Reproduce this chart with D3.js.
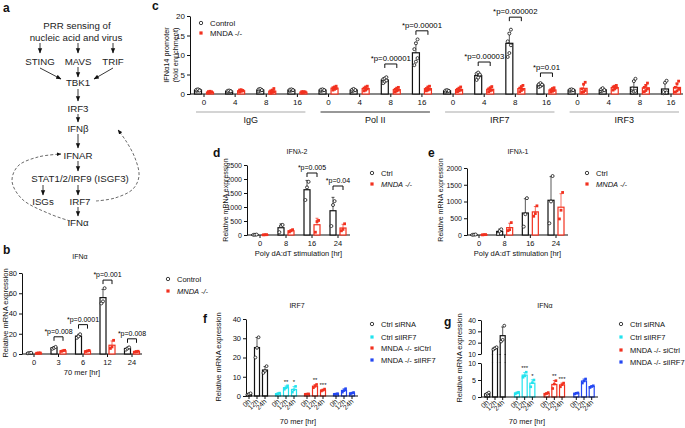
<!DOCTYPE html>
<html>
<head>
<meta charset="utf-8">
<script src="https://cdn.jsdelivr.net/npm/d3@7.9.0/dist/d3.min.js"></script>
<style>
  body { margin: 0; background: #fff; }
  svg { font-family: "Liberation Sans", Arial, sans-serif; }
</style>
</head>
<body>
<svg id="fig" width="685" height="428"></svg>
<script>
// ---- panel b: IFNa after 70 mer ----
const bTimes = ['0', '3', '6', '12', '24'];
const bControl = [[0.7, 1.0, 1.2], [5.2, 6.0, 7.0], [16.0, 17.5, 19.5], [50, 52, 65], [4.3, 5.5, 6.5]];
const bMnda = [[0.8, 1.0, 1.1], [2.6, 3.2, 3.6], [2.5, 3.0, 3.5], [5.5, 7.0, 13.5], [2.0, 2.4, 2.7]];
const bPvalGroups = ['3', '6', '12', '24'];
const bPvalText = ['*p=0.008', '*p=0.0001', '*p=0.001', '*p=0.008'];
const bPvalLevel = [17, 29, 73, 15];

// ---- panel c: ChIP at IFNa14 promoter ----
const cTargets = ['IgG', 'Pol II', 'IRF7', 'IRF3'];
const cTimes = ['0', '4', '8', '16'];
const cControl = [
  [0.8, 0.9, 1.0, 1.1, 1.2, 0.9], [0.5, 0.6, 0.7, 0.8, 0.9, 0.7], [0.7, 0.9, 1.0, 1.2, 1.3, 1.0], [0.8, 0.9, 1.0, 1.1, 1.2, 1.0],
  [0.8, 0.9, 1.0, 1.1, 1.2, 1.0], [0.7, 0.9, 1.0, 1.1, 1.3, 1.0], [2.8, 3.2, 3.5, 3.8, 4.0, 4.3], [7.4, 8.3, 9.2, 11.5, 13.0, 14.0],
  [0.5, 0.7, 0.8, 0.9, 1.0, 0.8], [3.6, 4.2, 4.8, 5.2, 5.5, 5.0], [9.5, 10.5, 12.5, 13.5, 15.5, 16.5], [1.8, 2.0, 2.3, 2.5, 2.8, 2.4],
  [0.8, 0.9, 1.0, 1.1, 1.2, 1.0], [0.7, 0.9, 1.0, 1.2, 1.5, 1.0], [0.4, 0.6, 0.8, 1.4, 3.3, 3.9], [0.2, 0.3, 0.4, 0.5, 2.9, 3.4]
];
const cMnda = [
  [0.3, 0.4, 0.5, 0.6, 0.7, 0.5], [0.5, 0.7, 0.8, 1.0, 1.1, 0.9], [0.2, 0.4, 0.6, 0.8, 1.0, 1.4], [0.3, 0.4, 0.5, 0.6, 0.6, 0.5],
  [1.0, 1.2, 1.4, 1.6, 1.8, 2.0], [0.8, 1.0, 1.3, 1.5, 1.8, 2.0], [0.5, 0.8, 1.0, 1.2, 1.5, 1.7], [0.8, 1.0, 1.2, 1.4, 1.8, 2.0],
  [0.6, 0.8, 1.0, 1.2, 1.5, 1.8], [0.6, 0.8, 1.0, 1.3, 1.6, 1.9], [0.6, 0.9, 1.2, 1.5, 1.9, 2.2], [0.5, 0.7, 0.9, 1.1, 1.4, 1.6],
  [0.4, 0.6, 0.9, 1.3, 2.5, 3.0], [1.0, 1.3, 1.6, 1.8, 2.0, 2.2], [0.6, 0.9, 1.3, 1.7, 2.2, 2.8], [0.5, 0.8, 1.2, 1.7, 2.6, 3.3]
];
const cPvalGroups = [6, 7, 9, 10, 11];
const cPvalText = ['*p=0.00001', '*p=0.00001', '*p=0.00003', '*p=0.000002', '*p=0.01'];
const cPvalLevel = [7.7, 16.2, 8.2, 19.7, 5.4];

// ---- panels d, e: IFNL after poly dA:dT ----
const deTimes = ['0', '8', '16', '24'];
const dCtrl = [[5, 10, 15], [100, 320, 360], [1250, 1700, 1900], [320, 1070, 1210]];
const dMnda = [[5, 10, 12], [110, 150, 190], [100, 480, 520], [150, 200, 400]];
const dPvalGroups = ['16', '24'];
const dPvalText = ['*p=0.005', '*p=0.04'];
const dPvalLevel = [2214, 1750];
const eCtrl = [[5, 10, 15], [30, 120, 170], [250, 620, 1100], [350, 1000, 1760]];
const eMnda = [[5, 10, 12], [130, 160, 370], [560, 640, 870], [480, 740, 1270]];

// ---- panels f, g: siRNA ----
const fgTimes = ['0h', '12h', '24h'];
const fgGroups = ['Ctrl siRNA', 'Ctrl siIRF7', 'MNDA -/- siCtrl', 'MNDA -/- siIRF7'];
const fPts = [
  [[0.6, 1.0, 1.4], [20, 25, 30.5], [12, 13, 15.5]],
  [[0.8, 1.2, 1.5], [3.5, 4.2, 5.3], [2.0, 3.2, 5.0]],
  [[0.9, 1.0, 1.1], [4.3, 5.0, 6.0], [2.6, 3.0, 3.6]],
  [[0.9, 1.0, 1.2], [2.0, 2.8, 3.8], [1.2, 1.5, 1.8]]
];
const fStars = [['', '', ''], ['', '**', '*'], ['', '**', '***'], ['', '', '']];
const gPts = [
  [[0.6, 1.0, 1.3], [14, 15, 16], [21, 22.5, 35]],
  [[0.9, 1.2, 1.4], [5.8, 6.2, 7.3], [3.0, 4.2, 5.0]],
  [[0.8, 1.0, 1.3], [2.5, 3.8, 4.8], [3.0, 3.6, 4.1]],
  [[0.9, 1.1, 1.2], [4.1, 4.7, 5.3], [2.8, 3.1, 3.3]]
];
const gStars = [['', '', ''], ['', '***', '*'], ['', '**', '***'], ['', '', '']];

const INK = '#111';
const RED = '#f2311f';
const groupColors = [INK, '#22e3ee', RED, '#2347f2'];

const svg = d3.select('#fig');

function txt(x, y, s, size, o = {}) {
  const t = svg.append('text').attr('x', x).attr('y', y).attr('font-size', size)
    .attr('fill', o.fill || INK).text(s);
  if (o.anchor) t.attr('text-anchor', o.anchor);
  if (o.weight) t.attr('font-weight', o.weight);
  if (o.italic) t.attr('font-style', 'italic');
  if (o.rotate) t.attr('transform', `rotate(${o.rotate},${x},${y})`);
  return t;
}

function yAxis(x0, y, ticks, size) {
  const g = svg.append('g').attr('transform', `translate(${x0},0)`)
    .call(d3.axisLeft(y).tickValues(ticks).tickFormat(d3.format('d'))
      .tickSize(3).tickSizeOuter(0).tickPadding(2));
  g.attr('font-family', null);
  g.select('.domain').attr('stroke', INK);
  g.selectAll('.tick line').attr('stroke', INK);
  g.selectAll('.tick text').attr('font-size', size).attr('fill', INK);
  return g;
}

function xAxis(x1, x2, y0, xs, labels, size) {
  svg.append('line').attr('x1', x1).attr('x2', x2).attr('y1', y0).attr('y2', y0).attr('stroke', INK);
  xs.forEach((tx, i) => {
    svg.append('line').attr('x1', tx).attr('x2', tx).attr('y1', y0).attr('y2', y0 + 3).attr('stroke', INK);
    if (labels) txt(tx, y0 + 11, labels[i], size, { anchor: 'middle' });
  });
}

function dot(x, y, color, shape, r) {
  if (shape === 'circle') {
    svg.append('circle').attr('cx', x).attr('cy', y).attr('r', r)
      .attr('fill', '#fff').attr('stroke', color).attr('stroke-width', 0.8);
  } else {
    svg.append('rect').attr('x', x - r).attr('y', y - r).attr('width', 2 * r).attr('height', 2 * r)
      .attr('fill', color);
  }
}

// one bar with SD error bar and its points; yf maps a value to pixels
function bar(cx, pts, yf, color, shape, w, r) {
  const m = d3.mean(pts);
  const sd = d3.deviation(pts) || 0;
  svg.append('rect').attr('x', cx - w / 2).attr('y', yf(m)).attr('width', w)
    .attr('height', yf(0) - yf(m)).attr('fill', '#fff').attr('stroke', color).attr('stroke-width', 1.2);
  svg.append('line').attr('x1', cx).attr('x2', cx).attr('y1', yf(m)).attr('y2', yf(m + sd))
    .attr('stroke', color).attr('stroke-width', 0.7);
  svg.append('line').attr('x1', cx - 1.5).attr('x2', cx + 1.5).attr('y1', yf(m + sd)).attr('y2', yf(m + sd))
    .attr('stroke', color).attr('stroke-width', 0.7);
  pts.forEach((v, j) => dot(cx + ((j % 3) - 1) * 1.6, yf(v), color, shape, r));
  return Math.min(yf(m + sd), d3.min(pts, (v) => yf(v)));
}

function bracket(xa, xb, yb, label, size) {
  svg.append('path').attr('d', `M${xa},${yb + 4}V${yb}H${xb}V${yb + 4}`)
    .attr('fill', 'none').attr('stroke', INK).attr('stroke-width', 1);
  txt((xa + xb) / 2, yb - 3, label, size, { anchor: 'middle', fill: '#000' });
}

function legendItem(x, y, label, color, shape, size, italic) {
  dot(x, y, color, shape, shape === 'circle' ? 1.7 : 1.6);
  txt(x + 9, y + 3, label, size, { italic });
}

// ================= panel a =================
txt(3, 12, 'a', 12, { weight: 'bold' });
svg.append('defs').append('marker').attr('id', 'ah').attr('viewBox', '0 0 10 10')
  .attr('refX', 9).attr('refY', 5).attr('markerWidth', 6).attr('markerHeight', 6)
  .attr('orient', 'auto').append('path').attr('d', 'M0,1L10,5L0,9Z').attr('fill', INK);

const aNodes = [
  ['PRR sensing of', 77, 25], ['nucleic acid and virus', 76, 37],
  ['STING', 40, 61], ['MAVS', 78, 61], ['TRIF', 113, 61],
  ['TBK1', 78, 82], ['IRF3', 78, 108], ['IFNβ', 78, 128], ['IFNAR', 78, 155],
  ['STAT1/2/IRF9 (ISGF3)', 80, 178], ['ISGs', 43, 201], ['IRF7', 80, 201], ['IFNα', 78, 222]
];
aNodes.forEach(([t, x, y]) => txt(x, y + 3.5, t, 9.7, { anchor: 'middle', fill: '#222' }));
const aArrows = [
  [40, 43, 40, 53], [78, 43, 78, 53], [113, 43, 113, 53],
  [40, 68, 61, 79], [78, 67, 78, 77], [113, 68, 94, 79],
  [78, 89, 78, 101], [78, 114, 78, 122], [78, 134, 78, 148], [78, 161, 78, 171],
  [43, 185, 43, 195], [78, 185, 78, 195], [78, 207, 78, 216]
];
aArrows.forEach(([x1, y1, x2, y2]) => {
  svg.append('line').attr('x1', x1).attr('y1', y1).attr('x2', x2).attr('y2', y2)
    .attr('stroke', '#222').attr('stroke-width', 0.9).attr('marker-end', 'url(#ah)');
});
const curve = d3.line().curve(d3.curveCatmullRom);
[
  [[96, 201], [115, 198], [133, 189], [139, 176], [135, 158], [126, 141], [118, 130]],
  [[70, 221], [50, 214], [22, 199], [12, 181], [18, 166], [38, 157], [61, 154]]
].forEach((pts) => {
  svg.append('path').attr('d', curve(pts)).attr('fill', 'none').attr('stroke', '#444')
    .attr('stroke-width', 0.8).attr('stroke-dasharray', '3,2').attr('marker-end', 'url(#ah)');
});

// ================= panel b =================
txt(3, 254, 'b', 12, { weight: 'bold' });
txt(80, 259, 'IFNα', 7, { anchor: 'middle' });
{
  const x = d3.scalePoint().domain(bTimes).range([34, 132]);
  const y = d3.scaleLinear().domain([0, 80]).range([354, 273]);
  yAxis(22, y, [0, 20, 40, 60, 80], 7.5);
  xAxis(22, 142, 354, bTimes.map((t) => x(t)), bTimes, 7.5);
  bTimes.forEach((t, i) => {
    bar(x(t) - 4.5, bControl[i], y, INK, 'circle', 6, 1.5);
    bar(x(t) + 4.5, bMnda[i], y, RED, 'square', 6, 1.4);
  });
  bPvalGroups.forEach((t, i) => bracket(x(t) - 4.5, x(t) + 4.5, y(bPvalLevel[i]), bPvalText[i], 7));
  txt(82, 375, '70 mer [hr]', 7.5, { anchor: 'middle' });
  txt(8, 313, 'Relative mRNA expression', 7.5, { anchor: 'middle', rotate: -90 });
  legendItem(168, 279, 'Control', INK, 'circle', 7.5, false);
  legendItem(168, 291, 'MNDA -/-', RED, 'square', 7.5, true);
}

// ================= panel c =================
txt(152, 10, 'c', 12, { weight: 'bold' });
{
  const keys = d3.range(cTargets.length * cTimes.length);
  const x = d3.scalePoint().domain(keys).range([204, 671]);
  const y = d3.scaleLinear().domain([0, 20]).range([94, 16]);
  yAxis(190, y, [0, 5, 10, 15, 20], 8);
  xAxis(190, 683, 94, keys.map((k) => x(k)), keys.map((k) => cTimes[k % 4]), 8);
  keys.forEach((k) => {
    bar(x(k) - 6, cControl[k], y, INK, 'circle', 7, 1.5);
    bar(x(k) + 6, cMnda[k], y, RED, 'square', 7, 1.4);
  });
  cPvalGroups.forEach((k, i) => bracket(x(k) - 6, x(k) + 6, y(cPvalLevel[i]), cPvalText[i], 7.8));
  cTargets.forEach((t, i) => {
    const xa = x(i * 4) - 8, xb = x(i * 4 + 3) + 8;
    svg.append('line').attr('x1', xa).attr('x2', xb).attr('y1', 112).attr('y2', 112)
      .attr('stroke', i === 1 ? '#333' : '#aaa').attr('stroke-width', 1.2);
    txt((xa + xb) / 2, 123, t, 9, { anchor: 'middle' });
  });
  txt(169, 55, 'IFNα14 promoter', 7.3, { anchor: 'middle', rotate: -90 });
  txt(178, 55, '(fold enrichment)', 7.3, { anchor: 'middle', rotate: -90 });
  legendItem(201, 23, 'Control', INK, 'circle', 7.8, false);
  legendItem(201, 33, 'MNDA -/-', RED, 'square', 7.8, false);
}

// ================= panels d, e =================
function panelDE(letter, lx, title, tx, ctrl, mnda, xr, yMax, axX, axEnd, ticks, legX, ylabX) {
  txt(lx, 157, letter, 12, { weight: 'bold' });
  txt(tx, 154, title, 7, { anchor: 'middle' });
  const x = d3.scalePoint().domain(deTimes).range(xr);
  const y = d3.scaleLinear().domain([0, yMax[0]]).range([235, yMax[1]]);
  yAxis(axX, y, ticks, 7);
  xAxis(axX, axEnd, 235, deTimes.map((t) => x(t)), deTimes, 7.5);
  deTimes.forEach((t, i) => {
    bar(x(t) - 5, ctrl[i], y, INK, 'circle', 6, 1.5);
    bar(x(t) + 5, mnda[i], y, RED, 'square', 6, 1.4);
  });
  txt((axX + axEnd) / 2, 256, 'Poly dA:dT stimulation [hr]', 7.5, { anchor: 'middle' });
  txt(ylabX, 200, 'Relative mRNA expression', 7, { anchor: 'middle', rotate: -90 });
  legendItem(legX, 173, 'Ctrl', INK, 'circle', 7.5, false);
  legendItem(legX, 184, 'MNDA -/-', RED, 'square', 7.5, true);
  return { x, y };
}
{
  const d = panelDE('d', 213, 'IFNλ-2', 297, dCtrl, dMnda, [260, 338], [2500, 165], 247, 350,
    [0, 500, 1000, 1500, 2000, 2500], 372, 228);
  dPvalGroups.forEach((t, i) => bracket(d.x(t) - 5, d.x(t) + 5, d.y(dPvalLevel[i]), dPvalText[i], 7));
  panelDE('e', 428, 'IFNλ-1', 518, eCtrl, eMnda, [479, 556], [2000, 168], 467, 568,
    [0, 500, 1000, 1500, 2000], 587, 443);
}

// ================= panels f, g =================
function panelFG(pts, stars, gx, step, yf, axX, axEnd, y0) {
  gx.domain(fgGroups);
  fgGroups.forEach((grp, gi) => {
    fgTimes.forEach((t, ti) => {
      const cx = gx(grp) + (ti - 1) * step;
      const top = bar(cx, pts[gi][ti], yf, groupColors[gi], gi === 0 ? 'circle' : 'square', 5, gi === 0 ? 1.4 : 1.3);
      if (stars[gi][ti]) txt(cx, top - 2, stars[gi][ti], 6, { anchor: 'middle' });
      svg.append('line').attr('x1', cx).attr('x2', cx).attr('y1', y0).attr('y2', y0 + 3).attr('stroke', INK);
      txt(cx + 2, y0 + 6, t, 7, { anchor: 'end', rotate: -45 });
    });
  });
  svg.append('line').attr('x1', axX).attr('x2', axEnd).attr('y1', y0).attr('y2', y0).attr('stroke', INK);
}
function legendFG(x, ys) {
  fgGroups.forEach((grp, gi) => legendItem(x, ys[gi], grp, groupColors[gi], gi === 0 ? 'circle' : 'square', 7.5, false));
}
{
  // f
  txt(203, 323, 'f', 12, { weight: 'bold' });
  txt(297, 308, 'IRF7', 7, { anchor: 'middle' });
  const y = d3.scaleLinear().domain([0, 40]).range([396, 319]);
  yAxis(246, y, [0, 10, 20, 30, 40], 7.5);
  panelFG(fPts, fStars, d3.scalePoint().range([257, 344]), 8, y, 246, 358, 396);
  txt(298, 424, '70 mer [hr]', 7.5, { anchor: 'middle' });
  txt(221, 357, 'Relative mRNA expression', 7.5, { anchor: 'middle', rotate: -90 });
  legendFG(372, [324, 337, 348, 360]);
}
{
  // g, broken y axis
  txt(444, 326, 'g', 12, { weight: 'bold' });
  txt(545, 308, 'IFNα', 7, { anchor: 'middle' });
  const lo = d3.scaleLinear().domain([0, 10]).range([397, 363]);
  const hi = d3.scaleLinear().domain([10, 40]).range([354, 320]);
  const yf = (v) => (v <= 10 ? lo(v) : hi(v));
  yAxis(481, lo, [0, 5, 10], 7);
  yAxis(481, hi, [10, 20, 30, 40], 7);
  panelFG(gPts, gStars, d3.scalePoint().range([495, 584]), 7.7, yf, 481, 598, 397);
  // cover the bar edges inside the axis gap, then redraw the tall bars through it
  svg.append('rect').attr('x', 482).attr('y', 355).attr('width', 30).attr('height', 7.5).attr('fill', '#fff');
  fgTimes.forEach((t, ti) => {
    const cx = 495 + (ti - 1) * 7.7;
    if (d3.mean(gPts[0][ti]) > 10) {
      [cx - 2.5, cx + 2.5].forEach((bx) => {
        svg.append('line').attr('x1', bx).attr('x2', bx).attr('y1', 354).attr('y2', 363)
          .attr('stroke', INK).attr('stroke-width', 1.2);
      });
    }
  });
  txt(527, 424, '70 mer [hr]', 7.5, { anchor: 'middle' });
  txt(462, 358, 'Relative mRNA expression', 7.5, { anchor: 'middle', rotate: -90 });
  legendFG(621, [324, 337, 350, 362]);
}
</script>
</body>
</html>
